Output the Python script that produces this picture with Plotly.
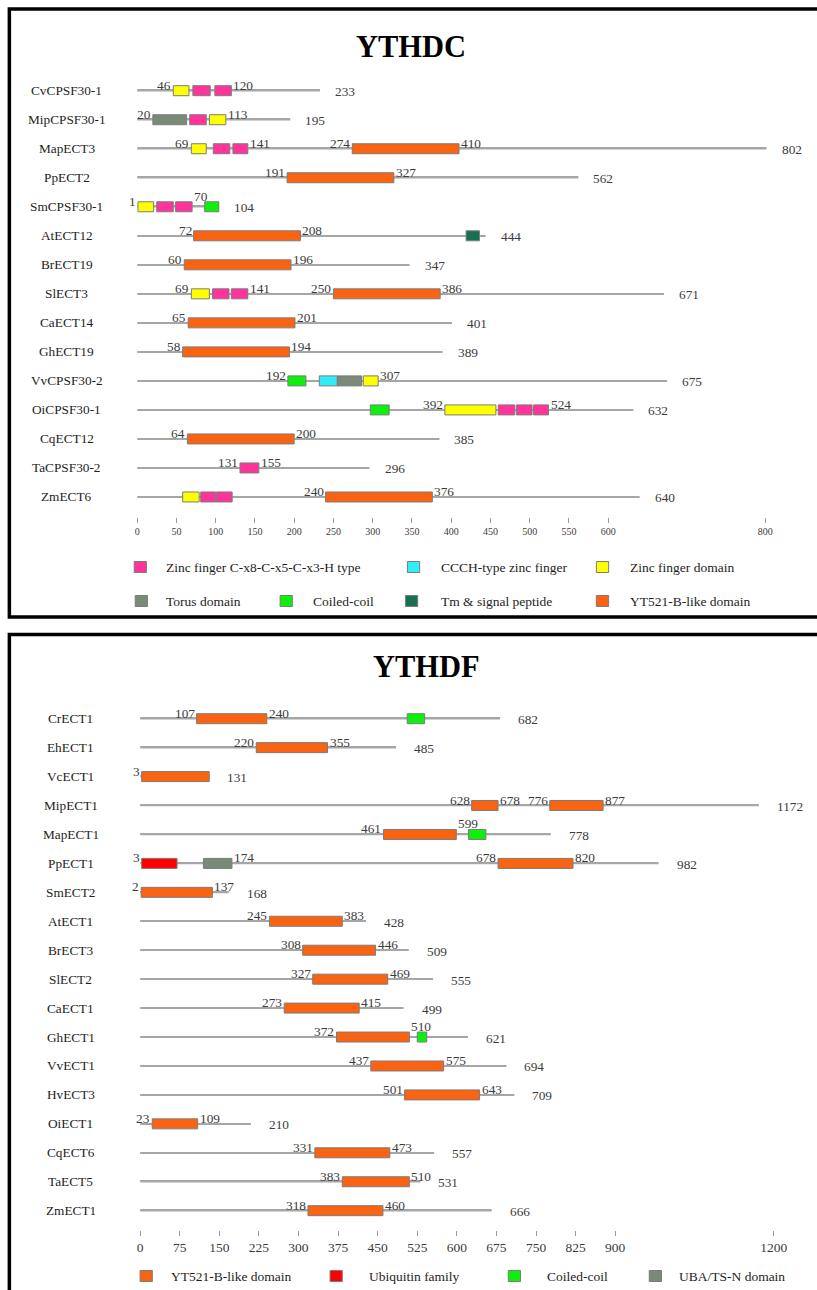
import plotly.graph_objects as go

# ---------------------------------------------------------------------------
# YTHDC proteins
# ---------------------------------------------------------------------------
dc_names = ["CvCPSF30-1", "MipCPSF30-1", "MapECT3", "PpECT2", "SmCPSF30-1",
            "AtECT12", "BrECT19", "SlECT3", "CaECT14", "GhECT19",
            "VvCPSF30-2", "OiCPSF30-1", "CqECT12", "TaCPSF30-2", "ZmECT6"]
dc_lengths = [233, 195, 802, 562, 104, 444, 347, 671, 401, 389, 675, 632, 385, 296, 640]

# domains: protein row, domain kind, start, end (aa)
dc_dom_row = [0, 0, 0,
              1, 1, 1,
              2, 2, 2, 2,
              3,
              4, 4, 4, 4,
              5, 5,
              6,
              7, 7, 7, 7,
              8,
              9,
              10, 10, 10, 10,
              11, 11, 11, 11, 11,
              12,
              13,
              14, 14, 14, 14]
dc_dom_kind = ["zf", "zn", "zn",
               "torus", "zn", "zf",
               "zf", "zn", "zn", "yt",
               "yt",
               "zf", "zn", "zn", "cc",
               "yt", "tm",
               "yt",
               "zf", "zn", "zn", "yt",
               "yt",
               "yt",
               "cc", "ccch", "torus", "zf",
               "cc", "zf", "zn", "zn", "zn",
               "yt",
               "zn",
               "zf", "zn", "zn", "yt"]
dc_dom_start = [46, 71, 99,
                20, 67, 92,
                69, 97, 122, 274,
                191,
                1, 25, 49, 86,
                72, 419,
                60,
                69, 96, 120, 250,
                65,
                58,
                192, 232, 255, 288,
                297, 392, 460, 483, 505,
                64,
                131,
                58, 81, 101, 240]
dc_dom_end = [66, 93, 120,
              63, 88, 113,
              88, 118, 141, 410,
              327,
              21, 46, 70, 104,
              208, 436,
              196,
              92, 117, 141, 386,
              201,
              194,
              215, 255, 286, 307,
              321, 457, 481, 503, 524,
              200,
              155,
              79, 100, 121, 376]

# boundary positions printed beside the domains ("s" = start, "e" = end)
dc_tag_row = [0, 0, 1, 1, 2, 2, 2, 2, 3, 3, 4, 4, 5, 5, 6, 6,
              7, 7, 7, 7, 8, 8, 9, 9, 10, 10, 11, 11, 12, 12, 13, 13, 14, 14]
dc_tag_value = [46, 120, 20, 113, 69, 141, 274, 410, 191, 327, 1, 70, 72, 208, 60, 196,
                69, 141, 250, 386, 65, 201, 58, 194, 192, 307, 392, 524, 64, 200, 131, 155, 240, 376]
dc_tag_side = ["s", "e", "s", "e", "s", "e", "s", "e", "s", "e", "s", "e", "s", "e", "s", "e",
               "s", "e", "s", "e", "s", "e", "s", "e", "s", "e", "s", "e", "s", "e", "s", "e", "s", "e"]

dc_ticks = [0, 50, 100, 150, 200, 250, 300, 350, 400, 450, 500, 550, 600, 800]

# ---------------------------------------------------------------------------
# YTHDF proteins
# ---------------------------------------------------------------------------
df_names = ["CrECT1", "EhECT1", "VcECT1", "MipECT1", "MapECT1", "PpECT1",
            "SmECT2", "AtECT1", "BrECT3", "SlECT2", "CaECT1", "GhECT1",
            "VvECT1", "HvECT3", "OiECT1", "CqECT6", "TaECT5", "ZmECT1"]
df_lengths = [682, 485, 131, 1172, 778, 982, 168, 428, 509, 555, 499, 621,
              694, 709, 210, 557, 531, 666]

df_dom_row = [0, 0, 1, 2, 3, 3, 4, 4, 5, 5, 5, 6, 7, 8, 9, 10, 11, 11,
              12, 13, 14, 15, 16, 17]
df_dom_kind = ["yt", "cc", "yt", "yt", "yt", "yt", "yt", "cc", "ubi", "uba", "yt",
               "yt", "yt", "yt", "yt", "yt", "yt", "cc",
               "yt", "yt", "yt", "yt", "yt", "yt"]
df_dom_start = [107, 506, 220, 3, 628, 776, 461, 622, 3, 120, 678, 2, 245, 308, 327, 273,
                372, 525, 437, 501, 23, 331, 383, 318]
df_dom_end = [240, 539, 355, 131, 678, 877, 599, 655, 70, 174, 820, 137, 383, 446, 469, 415,
              510, 543, 575, 643, 109, 473, 510, 460]

df_tag_row = [0, 0, 1, 1, 2, 3, 3, 3, 3, 4, 4, 5, 5, 5, 5, 6, 6, 7, 7, 8, 8, 9, 9,
              10, 10, 11, 11, 12, 12, 13, 13, 14, 14, 15, 15, 16, 16, 17, 17]
df_tag_value = [107, 240, 220, 355, 3, 628, 678, 776, 877, 461, 599, 3, 174, 678, 820,
                2, 137, 245, 383, 308, 446, 327, 469, 273, 415, 372, 510, 437, 575,
                501, 643, 23, 109, 331, 473, 383, 510, 318, 460]
df_tag_side = ["s", "e", "s", "e", "s", "s", "e", "s", "e", "s", "e", "s", "e", "s", "e",
               "s", "e", "s", "e", "s", "e", "s", "e", "s", "e", "s", "e", "s", "e",
               "s", "e", "s", "e", "s", "e", "s", "e", "s", "e"]

df_ticks = [0, 75, 150, 225, 300, 375, 450, 525, 600, 675, 750, 825, 900, 1200]

# domain kinds: legend text and fill colour
KINDS = {
    "zn":    ("Zinc finger C-x8-C-x5-C-x3-H type", "#FF3399"),
    "ccch":  ("CCCH-type zinc finger", "#30EEF8"),
    "zf":    ("Zinc finger domain", "#FFFF00"),
    "torus": ("Torus domain", "#798A78"),
    "cc":    ("Coiled-coil", "#0CF00C"),
    "tm":    ("Tm & signal peptide", "#17704F"),
    "yt":    ("YT521-B-like domain", "#FA6311"),
    "ubi":   ("Ubiquitin family", "#FF0000"),
    "uba":   ("UBA/TS-N domain", "#798A78"),
}

# ---------------------------------------------------------------------------
# page geometry (pixels)
# ---------------------------------------------------------------------------
W, H = 817, 1290
SERIF = "Liberation Serif, Times New Roman, serif"
NUM_COLOR = "#3c3c3c"
NAME_COLOR = "#1e1e1e"
NUM_SIZE = 13.3
BOX_PX = 10.0


def fx(p):
    return p / W


def fy(p):
    return 1 - p / H


panels = [
    dict(title="YTHDC", title_x=417, title_y=47,
         names=dc_names, lengths=dc_lengths,
         drow=dc_dom_row, dkind=dc_dom_kind, dstart=dc_dom_start, dend=dc_dom_end,
         trow=dc_tag_row, tval=dc_tag_value, tside=dc_tag_side,
         ticks=dc_ticks, tickfont=10, xmax=802,
         x_left=137, x_right=780, y_top=62, y_bottom=517,
         row0=90.7, step=29.02, name_x=65, len_shift=13,
         box=(9, 617), xa="x", ya="y"),
    dict(title="YTHDF", title_x=432, title_y=667,
         names=df_names, lengths=df_lengths,
         drow=df_dom_row, dkind=df_dom_kind, dstart=df_dom_start, dend=df_dom_end,
         trow=df_tag_row, tval=df_tag_value, tside=df_tag_side,
         ticks=df_ticks, tickfont=13.5, xmax=1200,
         x_left=140, x_right=787, y_top=690, y_bottom=1230,
         row0=718.7, step=28.94, name_x=69, len_shift=16,
         box=(634.5, 1300), xa="x2", ya="y2"),
]

fig = go.Figure()
annotations = []
shapes = []
layout_axes = {}

for k, p in enumerate(panels):
    xa, ya = p["xa"], p["ya"]
    n = len(p["names"])
    rows = list(range(n))
    bar_h = BOX_PX / p["step"]
    line_h = 1.6 / p["step"]
    px_per_aa = (p["x_right"] - p["x_left"]) / p["xmax"]

    # protein backbones
    fig.add_trace(go.Bar(
        orientation="h", y=rows, x=p["lengths"], base=[0] * n, width=line_h,
        marker=dict(color="#a6a6a6", line=dict(width=0)),
        xaxis=xa, yaxis=ya, showlegend=False, hoverinfo="skip"))

    # domain boxes, one trace per kind
    for kind in KINDS:
        idx = [i for i, kk in enumerate(p["dkind"]) if kk == kind]
        if not idx:
            continue
        fig.add_trace(go.Bar(
            orientation="h",
            y=[p["drow"][i] for i in idx],
            base=[p["dstart"][i] for i in idx],
            x=[p["dend"][i] - p["dstart"][i] for i in idx],
            width=bar_h,
            marker=dict(color=KINDS[kind][1], line=dict(color="#7c7c7c", width=1)),
            xaxis=xa, yaxis=ya, showlegend=False, name=KINDS[kind][0]))

    # axes
    v_top = (p["y_top"] - p["row0"]) / p["step"]
    v_bot = (p["y_bottom"] - p["row0"]) / p["step"]
    xname = "xaxis" if xa == "x" else "xaxis2"
    yname = "yaxis" if ya == "y" else "yaxis2"
    layout_axes[xname] = dict(
        domain=[fx(p["x_left"]), fx(p["x_right"])],
        range=[0, p["xmax"]], anchor=ya,
        showgrid=False, zeroline=False, showline=False,
        ticks="outside", ticklen=5, tickwidth=1, tickcolor="#9a9a9a",
        tickvals=p["ticks"], ticktext=[str(t) for t in p["ticks"]],
        tickfont=dict(family=SERIF, size=p["tickfont"], color=NUM_COLOR),
        fixedrange=True)
    layout_axes[yname] = dict(
        domain=[fy(p["y_bottom"]), fy(p["y_top"])],
        range=[v_bot, v_top], anchor=xa, visible=False, fixedrange=True)

    # protein names and total lengths
    for i, nm in enumerate(p["names"]):
        annotations.append(dict(
            xref="paper", yref=ya, x=fx(p["name_x"]), y=i, text=nm,
            xanchor="center", yanchor="middle", showarrow=False,
            font=dict(family=SERIF, size=13.3, color=NAME_COLOR)))
        annotations.append(dict(
            xref=xa, yref=ya, x=p["lengths"][i], y=i, text=str(p["lengths"][i]),
            xanchor="left", yanchor="middle", xshift=p["len_shift"], yshift=-1,
            showarrow=False, font=dict(family=SERIF, size=NUM_SIZE, color=NUM_COLOR)))

    # domain boundary positions; a number that would run into a
    # neighbouring box is lifted to sit above it
    for r, v, s in zip(p["trow"], p["tval"], p["tside"]):
        span = (0.5 * NUM_SIZE * len(str(v)) + 2) / px_per_aa
        lift = 0
        for dr, ds, de in zip(p["drow"], p["dstart"], p["dend"]):
            if dr != r:
                continue
            if s == "e" and v < ds < v + span:
                lift = BOX_PX / 2
            if s == "s" and v - span < de < v:
                lift = BOX_PX / 2
        annotations.append(dict(
            xref=xa, yref=ya, x=v, y=r, text=str(v),
            xanchor="right" if s == "s" else "left", yanchor="bottom",
            xshift=0, yshift=-4 + lift, showarrow=False,
            font=dict(family=SERIF, size=NUM_SIZE, color=NUM_COLOR)))

    # panel title
    annotations.append(dict(
        xref="paper", yref="paper", x=fx(p["title_x"]), y=fy(p["title_y"]),
        text="<b>%s</b>" % p["title"], xanchor="center", yanchor="middle",
        showarrow=False, font=dict(family=SERIF, size=30.5, color="#000000")))

    # panel frame
    shapes.append(dict(
        type="rect", xref="paper", yref="paper",
        x0=fx(6.5), x1=fx(W + 20), y0=fy(p["box"][1]), y1=fy(p["box"][0]),
        line=dict(color="#000000", width=3.5), fillcolor="rgba(0,0,0,0)"))

# legends: (kind, swatch left px, text left px, row centre px)
legend_items = [
    ("zn", 134, 164, 567), ("ccch", 413, 445, 567), ("zf", 606, 638, 567),
    ("torus", 135, 164, 601), ("cc", 283, 315, 601), ("tm", 411, 445, 601),
    ("yt", 606, 638, 601),
    ("yt", 140, 170, 1276), ("ubi", 334, 372, 1276), ("cc", 516, 554, 1276),
    ("uba", 660, 688, 1276),
]
for kind, sx, tx, cy in legend_items:
    shapes.append(dict(
        type="rect", xref="paper", yref="paper",
        x0=fx(sx), x1=fx(sx + 12.5), y0=fy(cy + 5.5), y1=fy(cy - 5.5),
        fillcolor=KINDS[kind][1], line=dict(color="#7c7c7c", width=1)))
    annotations.append(dict(
        xref="paper", yref="paper", x=fx(tx), y=fy(cy), text=KINDS[kind][0],
        xanchor="left", yanchor="middle", showarrow=False,
        font=dict(family=SERIF, size=13.5, color=NAME_COLOR)))

fig.update_layout(
    width=W, height=H, autosize=False,
    margin=dict(l=0, r=0, t=0, b=0),
    paper_bgcolor="#ffffff", plot_bgcolor="rgba(0,0,0,0)",
    barmode="overlay", showlegend=False,
    annotations=annotations, shapes=shapes,
    **layout_axes)

fig.write_html("out.html", config={"displayModeBar": False})
